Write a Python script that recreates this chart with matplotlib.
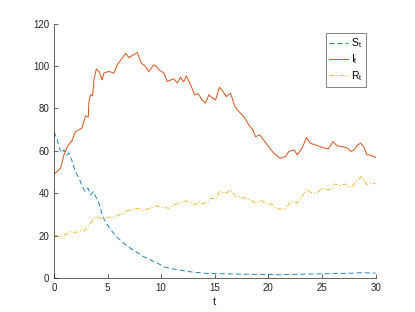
import matplotlib
matplotlib.use("Agg")
import matplotlib.pyplot as plt

plt.rcParams['font.family'] = ['Liberation Sans', 'DejaVu Sans']
plt.rcParams['lines.scale_dashes'] = False

# ---- data ----
t_I = [0, 0.62, 0.93, 1.25, 1.7, 2.0, 2.6, 2.8, 2.95, 3.2, 3.26, 3.4, 3.6, 3.73, 3.95,
       4.2, 4.5, 4.66, 5.1, 5.6, 5.9, 6.37, 6.68, 7.0, 7.3, 7.77, 8.15, 8.5, 8.85, 9.3,
       9.54, 9.8, 10.25, 10.57, 10.9, 11.18, 11.5, 11.8, 12.1, 12.34, 12.74, 13.14, 13.45,
       13.83, 14.14, 14.45, 14.76, 15.07, 15.44, 15.77, 16.06, 16.47, 16.87, 17.24, 17.7,
       18.17, 18.55, 18.8, 19.2, 19.5, 19.9, 20.5, 21.1, 21.6, 21.9, 22.4, 22.7, 23.15,
       23.55, 23.9, 24.4, 24.85, 25.2, 25.6, 26.04, 26.4, 26.9, 27.35, 27.7, 28.0, 28.33,
       28.6, 28.9, 29.2, 29.5, 30]
I = [49, 51.8, 58, 62, 65, 69, 70.7, 74, 76.5, 76, 83, 86.4, 86, 93.5, 98.6,
     97.5, 93.5, 96.7, 97.5, 96.7, 100.6, 103.8, 106, 104, 105, 106.4, 101.4, 100, 97.4, 100.6,
     100, 98.2, 96.7, 92.7, 93.5, 94, 92, 94.7, 92.5, 95.4, 91.2, 86.4, 87,
     84, 82.5, 86.4, 85, 84, 90, 88, 85.6, 87.2, 81, 78.6, 76.2,
     72.3, 70, 66.7, 67.5, 65.5, 62.8, 58.9, 56.5, 57.3, 59.7, 60.5, 58.1, 61.3,
     66.3, 63.6, 62.8, 62, 61.3, 61, 64.4, 62.4, 62, 61.3, 59.7, 60.5, 62.8,
     63.6, 62, 58.1, 58, 57]

t_S = [0, 0.3, 0.56, 0.78, 0.93, 1.2, 1.4, 1.7, 2.0, 2.35, 2.65, 2.9, 3.17, 3.42, 3.67,
       3.9, 4.2, 4.5, 4.8, 5.3, 5.9, 6.5, 7.15, 7.77, 8.4, 9.0, 9.8, 10.4, 11.3, 12.6,
       14.1, 15.6, 17.6, 19.6, 21.1, 23, 25.5, 28, 28.6, 30]
S = [69, 65.2, 60.5, 59, 60.5, 58, 59, 55, 50.2, 47, 43.1, 40.8, 42.4, 39.2, 40.8,
     38.4, 35.3, 29.8, 26.6, 22.7, 19.2, 16.4, 14, 12, 10, 8.5, 6.6, 5, 4.1, 3,
     2.2, 2.0, 1.8, 1.7, 1.5, 1.8, 2.0, 2.3, 2.5, 2.3]

t_R = [0, 0.62, 1.05, 1.55, 2.0, 2.5, 2.8, 3.1, 3.42, 3.73, 3.98, 4.3, 4.66, 5.1, 5.6,
       6.06, 6.5, 6.84, 7.3, 7.83, 8.2, 8.7, 9.17, 9.5, 10.1, 10.7, 11.2, 11.65, 12.27,
       12.9, 13.2, 13.5, 13.8, 14.3, 14.6, 15.1, 15.44, 15.85, 16.2, 16.47, 16.93, 17.4,
       17.87, 18.3, 18.8, 19.27, 19.7, 20.0, 20.3, 20.66, 21.1, 21.6, 22.06, 22.4, 22.7,
       23.15, 23.55, 23.9, 24.4, 24.7, 25.0, 25.5, 25.9, 26.16, 26.7, 27.2, 27.5, 27.9,
       28.27, 28.68, 28.9, 29.2, 29.6, 30]
R = [20.3, 19.5, 20.5, 21.9, 21.5, 22.3, 22.3, 24, 25.8, 28.2, 29, 28.2, 27.7, 28.7, 28.6,
     29.8, 30.5, 31.8, 32, 32.9, 32, 32.5, 33.4, 34, 33.4, 32.9, 34.5, 35.3, 36.4,
     35.3, 34.5, 36, 35, 35.6, 37.6, 37.4, 40.8, 40, 40.5, 41.6, 38.7, 38.3,
     37.6, 37, 35.3, 36.5, 35.7, 34.5, 35, 32.9, 32.5, 33, 35.6, 36, 35.5,
     38.4, 41.9, 40.5, 40, 40.8, 42.4, 41.6, 42, 44.4, 43.6, 44.4, 43, 43.5,
     46, 47.9, 46.5, 44, 45, 44.5]

blue = '#0072BD'
orange = '#D95319'
yellow = '#EDB120'
grey = '#262626'

fig = plt.figure(figsize=(4.15, 3.12), dpi=100)
ax = fig.add_axes([0.13, 0.109, 0.775, 0.815])

ax.plot(t_S, S, color=blue, lw=0.6, dashes=(3.6, 2.2), label='$\\mathregular{S_t}$')
ax.plot(t_I, I, color=orange, lw=0.7, label='$\\mathregular{I_t}$')
ax.plot(t_R, R, color=yellow, lw=0.6, dashes=(3.6, 1.4, 1.0, 1.4), label='$\\mathregular{R_t}$')

ax.set_xlim(0, 30)
ax.set_ylim(0, 120)
ax.set_xticks(range(0, 31, 5))
ax.set_yticks(range(0, 121, 20))
ax.spines['top'].set_visible(False)
ax.spines['right'].set_visible(False)
for s in ('left', 'bottom'):
    ax.spines[s].set_color(grey)
    ax.spines[s].set_linewidth(0.5)
ax.tick_params(direction='in', length=3, width=0.5, color=grey,
               labelcolor=grey, labelsize=7)
ax.set_xlabel('t', fontsize=8, color=grey, labelpad=3)

leg = ax.legend(loc='upper right', bbox_to_anchor=(0.971, 0.965), borderaxespad=0,
                fancybox=False, fontsize=7.5, handlelength=1.8, handletextpad=0.3,
                labelspacing=0.25, borderpad=0.35)
leg.get_frame().set_edgecolor(grey)
leg.get_frame().set_linewidth(0.5)

fig.savefig("out.png", dpi=100)
